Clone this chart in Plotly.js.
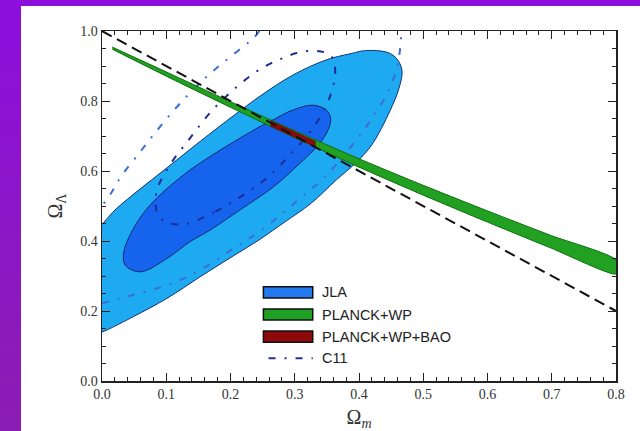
<!DOCTYPE html>
<html><head><meta charset="utf-8">
<script src="https://cdn.plot.ly/plotly-3.0.1.min.js"></script>
<style>
html,body{margin:0;padding:0;width:640px;height:431px;overflow:hidden;background:linear-gradient(to bottom,#8c0fdc,#8a1db2);}
#plot{position:absolute;left:21px;top:6px;width:619px;height:425px;background:#fff;}
</style></head><body><div id="plot"></div>
<script>
// JLA contours (outer = 2 sigma, inner = 1 sigma)
const jlaOuterX = [0.000,0.008,0.049,0.101,0.153,0.204,0.246,0.285,0.325,0.365,0.396,0.420,0.448,0.462,0.467,0.460,0.447,0.427,0.405,0.391,0.350,0.298,0.246,0.204,0.153,0.101,0.040,0.020,0.000];
const jlaOuterY = [0.140,0.146,0.184,0.236,0.298,0.357,0.405,0.455,0.507,0.575,0.625,0.675,0.771,0.835,0.885,0.918,0.937,0.944,0.943,0.937,0.918,0.875,0.814,0.757,0.685,0.609,0.520,0.488,0.447];
const jlaInnerX = [0.215,0.267,0.308,0.339,0.352,0.356,0.350,0.329,0.298,0.262,0.246,0.215,0.173,0.127,0.075,0.049,0.034,0.036,0.060,0.101,0.137,0.168,0.215];
const jlaInnerY = [0.489,0.555,0.622,0.679,0.718,0.748,0.773,0.788,0.775,0.742,0.727,0.694,0.647,0.589,0.503,0.436,0.369,0.331,0.312,0.350,0.398,0.431,0.489];
// PLANCK+WP band
const planckX     = [0.016,0.100,0.200,0.300,0.400,0.500,0.600,0.700,0.800];
const planckUpper = [0.954,0.883,0.798,0.715,0.635,0.559,0.486,0.415,0.346];
const planckLower = [0.948,0.871,0.782,0.695,0.611,0.531,0.454,0.379,0.306];
// PLANCK+WP+BAO
const baoX     = [0.262,0.298,0.332];
const baoUpper = [0.744,0.714,0.685];
const baoLower = [0.728,0.698,0.669];
// C11 contours
const c11OuterX = [0.000,0.028,0.101,0.153,0.205,0.230,0.272,0.308,0.350,0.396,0.417,0.443,0.459,0.464,0.466,null,0.245,0.236,0.194,0.158,0.122,0.091,0.060,0.028,0.016,0.000];
const c11OuterY = [0.222,0.236,0.274,0.317,0.379,0.408,0.465,0.522,0.589,0.689,0.742,0.818,0.894,0.950,1.000,null,1.000,0.980,0.918,0.861,0.794,0.728,0.656,0.580,0.542,0.500];
const c11InnerX = [0.129,0.176,0.218,0.259,0.295,0.326,0.352,0.363,0.356,0.334,0.303,0.282,0.262,0.241,0.202,0.168,0.135,0.106,0.085,0.086,0.100,0.129];
const c11InnerY = [0.448,0.484,0.529,0.584,0.651,0.717,0.799,0.885,0.930,0.943,0.937,0.923,0.907,0.885,0.828,0.766,0.689,0.618,0.542,0.480,0.454,0.448];
// flat universe line
const flatX = [0.0,0.8];
const flatY = [1.0,0.2];
// legend
const legendLabels = ['JLA','PLANCK+WP','PLANCK+WP+BAO','C11'];
const legendColors = ['rgb(34,120,236)','rgb(30,160,36)','rgb(140,10,12)','rgb(30,50,150)'];

const traces = [
  {x:jlaOuterX,y:jlaOuterY,type:'scatter',mode:'lines',fill:'toself',fillcolor:'rgb(30,170,240)',
   line:{color:'rgb(20,50,120)',width:1,shape:'spline',smoothing:1},hoverinfo:'skip',showlegend:false},
  {x:jlaInnerX,y:jlaInnerY,type:'scatter',mode:'lines',fill:'toself',fillcolor:'rgb(22,100,238)',
   line:{color:'rgb(15,40,110)',width:1,shape:'spline',smoothing:1},hoverinfo:'skip',showlegend:false},
  {x:c11OuterX,y:c11OuterY,type:'scatter',mode:'lines',connectgaps:false,
   line:{color:'rgb(60,110,215)',width:2,dash:'7px,9px,2px,9px',shape:'spline'},hoverinfo:'skip',showlegend:false},
  {x:c11InnerX,y:c11InnerY,type:'scatter',mode:'lines',
   line:{color:'rgb(30,45,150)',width:2,dash:'7px,9px,2px,9px',shape:'spline'},hoverinfo:'skip',showlegend:false},
  {x:planckX.concat(planckX.slice().reverse()),y:planckUpper.concat(planckLower.slice().reverse()),
   type:'scatter',mode:'lines',fill:'toself',fillcolor:'rgb(34,160,34)',
   line:{color:'rgb(10,110,10)',width:1,shape:'spline',smoothing:0.6},hoverinfo:'skip',showlegend:false},
  {x:baoX.concat(baoX.slice().reverse()),y:baoUpper.concat(baoLower.slice().reverse()),
   type:'scatter',mode:'lines',fill:'toself',fillcolor:'rgb(140,10,12)',
   line:{color:'rgb(90,10,10)',width:0.5},hoverinfo:'skip',showlegend:false},
  {x:flatX,y:flatY,type:'scatter',mode:'lines',
   line:{color:'#111',width:2,dash:'11px,6px'},hoverinfo:'skip',showlegend:false}
];

// manual legend
const lx0 = 0.314, lx1 = 0.410, ltext = 0.4245;
const lyc = [0.253,0.190,0.127,0.065];
const shapes = [];
const annotations = [];
legendLabels.forEach((lab,i)=>{
  if(i<3){
    shapes.push({type:'rect',xref:'paper',yref:'paper',x0:lx0,x1:lx1,y0:lyc[i]-0.016,y1:lyc[i]+0.016,
      fillcolor:legendColors[i],line:{color:'#111',width:1.5}});
  } else {
    shapes.push({type:'line',xref:'paper',yref:'paper',x0:lx0+0.01,x1:lx1,y0:lyc[i],y1:lyc[i],
      line:{color:legendColors[i],width:2.2,dash:'7px,9px,2px,9px'}});
  }
  annotations.push({xref:'paper',yref:'paper',x:ltext,y:lyc[i],xanchor:'left',yanchor:'middle',showarrow:false,
    text:lab,font:{family:'Liberation Sans, Arial, sans-serif',size:14.5,color:'#222'}});
});

const axisCommon = {
  showgrid:false,zeroline:false,showline:true,linecolor:'#222',linewidth:1.5,mirror:'allticks',
  ticks:'inside',ticklen:8,tickwidth:1,tickcolor:'#222',
  tickfont:{family:'Liberation Serif, Times New Roman, serif',size:14,color:'#333'},
  automargin:false,tickformat:'.1f'
};
const layout = {
  width:619,height:425,
  margin:{l:81,r:24,t:25,b:50},
  paper_bgcolor:'#fff',plot_bgcolor:'#fff',
  showlegend:false,
  xaxis:Object.assign({},axisCommon,{range:[0,0.8],dtick:0.1,tick0:0,
    minor:{dtick:0.02,ticks:'inside',ticklen:4,tickcolor:'#222',showgrid:false},
    title:{text:'Ω<sub><i>m</i></sub>',font:{family:'Liberation Serif, Times New Roman, serif',size:20,color:'#333'},standoff:13}}),
  yaxis:Object.assign({},axisCommon,{range:[0,1],dtick:0.2,tick0:0,
    minor:{dtick:0.05,ticks:'inside',ticklen:4,tickcolor:'#222',showgrid:false},
    title:{text:'Ω<sub>Λ</sub>',font:{family:'Liberation Serif, Times New Roman, serif',size:20,color:'#333'},standoff:12}}),
  shapes:shapes,
  annotations:annotations
};
Plotly.newPlot('plot',traces,layout,{staticPlot:true,displayModeBar:false});
</script>
</body></html>
